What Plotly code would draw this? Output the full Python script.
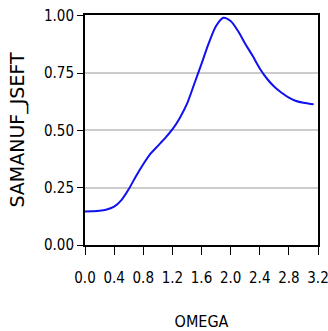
import plotly.graph_objects as go

omega = [0.0, 0.1, 0.2, 0.3, 0.4, 0.5, 0.6, 0.7, 0.8, 0.9, 1.0, 1.1, 1.2, 1.3, 1.4,
         1.5, 1.6, 1.7, 1.8, 1.9, 2.0, 2.1, 2.2, 2.3, 2.4, 2.5, 2.6, 2.7, 2.8, 2.9,
         3.0, 3.1, 3.14]
value = [0.146, 0.147, 0.149, 0.155, 0.167, 0.196, 0.243, 0.300, 0.352, 0.398,
         0.432, 0.466, 0.504, 0.553, 0.615, 0.702, 0.790, 0.880, 0.955, 0.991,
         0.977, 0.934, 0.878, 0.826, 0.770, 0.725, 0.690, 0.664, 0.643, 0.628,
         0.620, 0.615, 0.614]

x_ticks = [0.0, 0.4, 0.8, 1.2, 1.6, 2.0, 2.4, 2.8, 3.2]
x_tick_labels = ["0.0", "0.4", "0.8", "1.2", "1.6", "2.0", "2.4", "2.8", "3.2"]
y_ticks = [0.0, 0.25, 0.5, 0.75, 1.0]
y_tick_labels = ["0.00", "0.25", "0.50", "0.75", "1.00"]

narrow = "Liberation Sans Narrow, DejaVu Sans Condensed, Liberation Sans, Arial, sans-serif"

fig = go.Figure()
fig.add_trace(go.Scatter(
    x=omega, y=value, mode="lines",
    line=dict(color="#1010f0", width=2, shape="spline", smoothing=0.8),
    showlegend=False, hoverinfo="skip",
))

fig.update_layout(
    width=328, height=331,
    margin=dict(l=85, r=10, t=15, b=86),
    paper_bgcolor="white", plot_bgcolor="white",
    xaxis=dict(
        range=[0, 3.2], tickvals=x_ticks, ticktext=x_tick_labels,
        showgrid=False, zeroline=False, automargin=False,
        showline=True, linecolor="black", linewidth=2, mirror=True,
        ticks="outside", ticklen=8, tickwidth=1, tickcolor="black",
        ticklabelstandoff=10, ticklabeloverflow="allow",
        tickfont=dict(family=narrow, size=15, color="black"),
        title=dict(text="OMEGA", font=dict(family=narrow, size=16, color="black"),
                   standoff=34),
    ),
    yaxis=dict(
        range=[0, 1.003], tickvals=y_ticks, ticktext=y_tick_labels,
        showgrid=True, gridcolor="#cccccc", gridwidth=2, zeroline=False,
        automargin=False, ticklabeloverflow="allow",
        showline=True, linecolor="black", linewidth=2, mirror=True,
        ticks="outside", ticklen=6, tickwidth=1, tickcolor="black",
        tickfont=dict(family=narrow, size=15, color="black"),
        title=dict(text="SAMANUF_JSEFT",
                   font=dict(family="DejaVu Sans, sans-serif", size=19, color="black"),
                   standoff=14),
    ),
)

# remove the page's default body margin so the 328x331 figure fills the window
fig.write_html("out.html",
               config={"displayModeBar": False},
               post_script="document.body.style.margin='0';document.body.style.overflow='hidden';")
